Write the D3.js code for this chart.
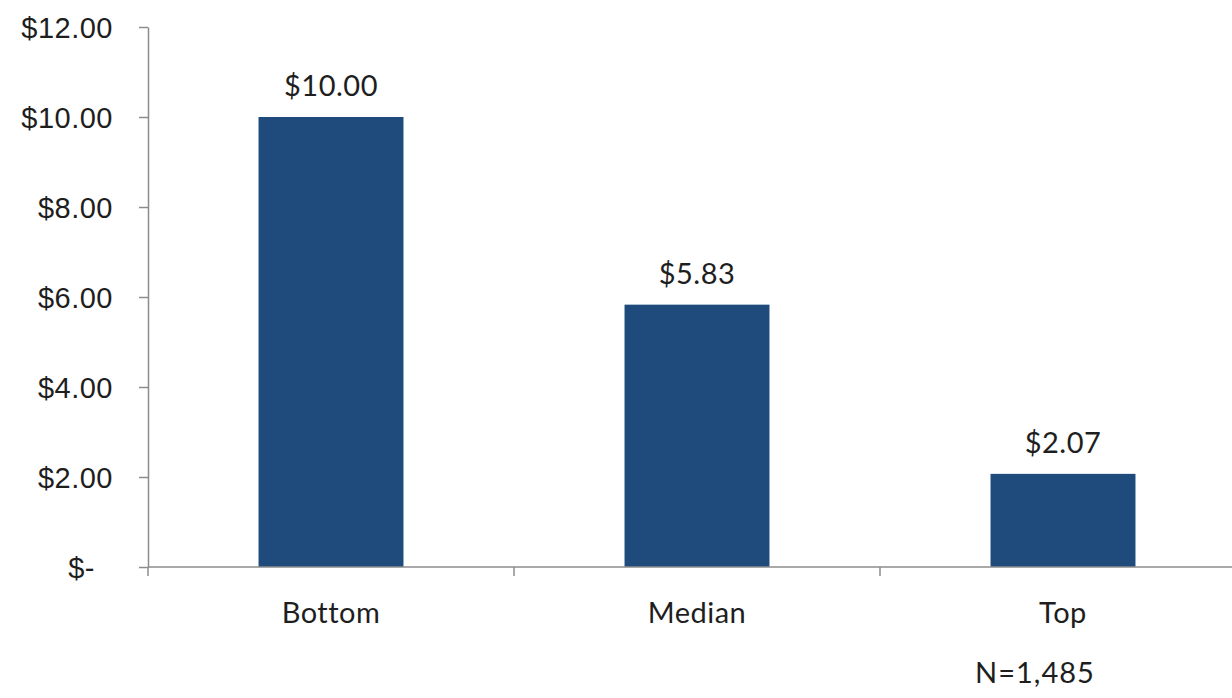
<!DOCTYPE html>
<html>
<head>
<meta charset="utf-8">
<script src="https://cdn.jsdelivr.net/npm/d3@7"></script>
<style>
  body { margin: 0; background: #fff; }
  svg { font-family: Lato, "Open Sans", sans-serif; }
</style>
</head>
<body>
<svg id="chart" width="1232" height="698"></svg>
<script>
// Chart data
const categories = ['Bottom', 'Median', 'Top'];
const values = [10.00, 5.83, 2.07];
const yTicks = [0, 2, 4, 6, 8, 10, 12];
const note = 'N=1,485';

const svg = d3.select('#chart');
const fontSize = '29px';

// Plot area (axis runs off the right edge, like the original)
const plotLeft = 148, plotRight = 1246, plotTop = 27, plotBottom = 567;

const x = d3.scaleBand()
    .domain(categories)
    .range([plotLeft, plotRight])
    .paddingInner(0.604)
    .paddingOuter(0.302);

const y = d3.scaleLinear()
    .domain([0, 12])
    .range([plotBottom, plotTop]);

const fmt = v => v === 0 ? '$-' : '$' + d3.format('.2f')(v);

// Y axis
const yAxis = svg.append('g')
    .attr('transform', `translate(${plotLeft},0)`)
    .call(d3.axisLeft(y).tickValues(yTicks).tickSize(9).tickPadding(26).tickFormat(fmt).tickSizeOuter(0));
yAxis.select('.domain').attr('stroke', '#8c8c8c').attr('stroke-width', 1.5);
yAxis.selectAll('.tick line').attr('stroke', '#8c8c8c').attr('stroke-width', 1.5);
yAxis.selectAll('.tick text')
    .attr('fill', '#1e1e1e')
    .style('font-size', fontSize)
    .style('letter-spacing', '0.5px')
    .attr('dy', '0.35em');
// "$-" sits further left, Excel accounting style
yAxis.selectAll('.tick text').filter(d => d === 0).attr('dx', -18);

// Bars
svg.selectAll('.bar')
    .data(values)
    .enter()
    .append('rect')
    .attr('class', 'bar')
    .attr('x', (d, i) => x(categories[i]))
    .attr('width', x.bandwidth())
    .attr('y', d => y(d))
    .attr('height', d => y(0) - y(d))
    .attr('fill', '#1f4a7c');

// Value labels
svg.selectAll('.value')
    .data(values)
    .enter()
    .append('text')
    .attr('class', 'value')
    .attr('x', (d, i) => x(categories[i]) + x.bandwidth() / 2)
    .attr('y', d => y(d) - 21)
    .attr('text-anchor', 'middle')
    .attr('fill', '#1e1e1e')
    .style('font-size', fontSize)
    .style('letter-spacing', '0.5px')
    .text(fmt);

// X axis: ticks between categories
const xAxisG = svg.append('g');
xAxisG.append('line')
    .attr('x1', plotLeft).attr('x2', 1232)
    .attr('y1', y(0)).attr('y2', y(0))
    .attr('stroke', '#8c8c8c').attr('stroke-width', 1.5);
const boundaries = categories.map(c => x(c) - x.step() * x.paddingInner() / 2);
boundaries.push(plotRight);
xAxisG.selectAll('.xtick')
    .data(boundaries)
    .enter()
    .append('line')
    .attr('x1', d => d).attr('x2', d => d)
    .attr('y1', y(0)).attr('y2', y(0) + 9)
    .attr('stroke', '#8c8c8c').attr('stroke-width', 1.5);

xAxisG.selectAll('.xlabel')
    .data(categories)
    .enter()
    .append('text')
    .attr('x', d => x(d) + x.bandwidth() / 2)
    .attr('y', 623)
    .attr('text-anchor', 'middle')
    .attr('fill', '#1e1e1e')
    .style('font-size', fontSize)
    .style('letter-spacing', '0.5px')
    .text(d => d);

// Sample size note
svg.append('text')
    .attr('x', x('Top') + x.bandwidth() / 2 - 28)
    .attr('y', 683)
    .attr('text-anchor', 'middle')
    .attr('fill', '#1e1e1e')
    .style('font-size', fontSize)
    .style('letter-spacing', '1px')
    .text(note);
</script>
</body>
</html>
